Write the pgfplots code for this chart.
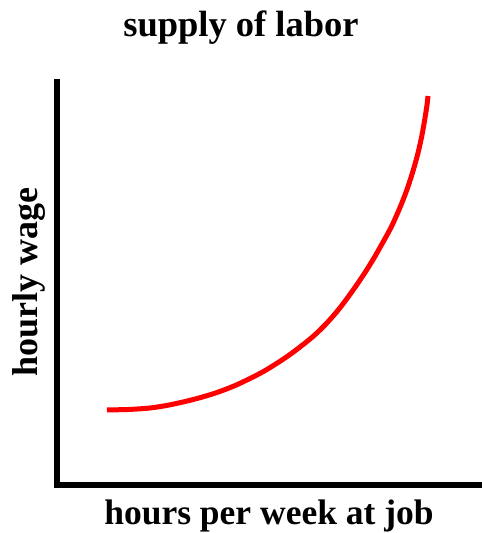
\documentclass[border=0pt]{standalone}
\usepackage{pgfplots}
\pgfplotsset{compat=1.18}
\usepackage{fontspec}
\setmainfont{Liberation Serif}
\begin{document}
\begin{tikzpicture}
\begin{axis}[
  x=1pt, y=1pt,
  xmin=57, xmax=482, ymin=48.5, ymax=451,
  axis lines=left,
  axis line style={-, line width=6pt, line cap=rect, black},
  xtick=\empty, ytick=\empty,
  clip=false,
]
\coordinate (bbA) at (axis cs:0,0);
\coordinate (bbB) at (axis cs:482,533);
\addplot[red, line width=5pt, smooth] coordinates {
 (107,123) (130,123.6) (150,125) (167,127.6) (183,131) (200,135.3) (217,140.5)
 (234,147) (250,154.5) (264,161.8) (277,169.8) (289,177.8) (300,186) (313,196.5)
 (325,208) (337,221.5) (347,234.5) (357,248.5) (366,262) (374,275) (380,285.5)
 (391,305.5) (400,325.5) (407,343.5) (413,362) (418,380) (422,398) (425,415)
 (427,428) (428,437)
};
\node[anchor=base, inner sep=0pt, font=\fontsize{36.5}{40}\selectfont\bfseries] at (axis cs:241,496) {supply of labor};
\node[anchor=base, inner sep=0pt, font=\fontsize{35.5}{40}\selectfont\bfseries] at (axis cs:269,8.5) {hours per week at job};
\node[anchor=base, rotate=90, inner sep=0pt, font=\fontsize{36}{40}\selectfont\bfseries] at (axis cs:38,251) {hourly wage};
\end{axis}
\pgfresetboundingbox
\useasboundingbox (bbA) rectangle (bbB);
\end{tikzpicture}
\end{document}
